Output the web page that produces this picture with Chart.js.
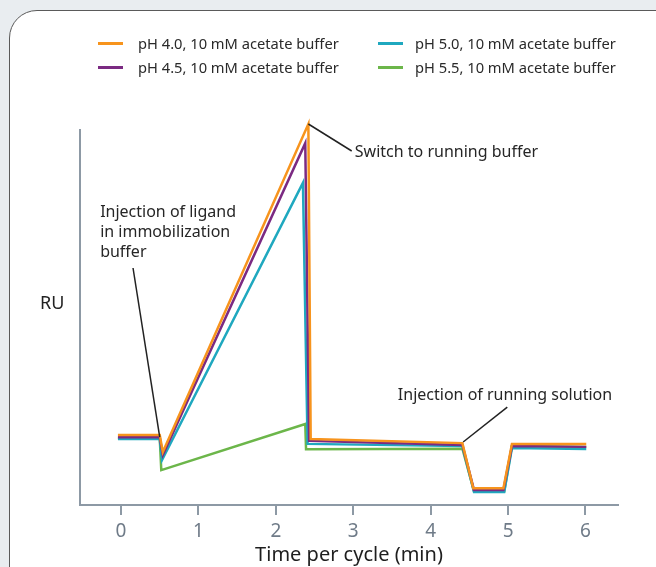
<!DOCTYPE html>
<html>
<head>
<meta charset="utf-8">
<script src="https://cdn.jsdelivr.net/npm/chart.js@4.4.1/dist/chart.umd.min.js"></script>
<style>
  html, body { margin:0; padding:0; background:#e9edf0; }
  body { width:656px; height:567px; overflow:hidden; position:relative; font-family:"Noto Sans", "Open Sans", sans-serif; }
  .card { position:absolute; left:9px; top:10px; width:700px; height:620px; background:#fff; border:1.5px solid #5a5a5a; border-radius:28px; }
  #wrap { position:absolute; left:0; top:0; width:656px; height:567px; }
  .leg { position:absolute; font-size:14.7px; color:#2a2a2a; white-space:nowrap; }
  .leg i { position:absolute; top:50%; width:25px; height:3px; margin-top:-1.5px; }
  .leg span { position:absolute; top:0; line-height:20px; }
  #ru { position:absolute; left:40px; top:290px; font-size:18px; color:#222; }
</style>
</head>
<body>
<div class="card"></div>
<div id="wrap"><canvas id="c" width="656" height="567"></canvas></div>
<div id="legend"></div>
<div id="ru">RU</div>
<script>
// series (time in min, response in arbitrary RU)
var labels = ['pH 4.0, 10 mM acetate buffer','pH 4.5, 10 mM acetate buffer','pH 5.0, 10 mM acetate buffer','pH 5.5, 10 mM acetate buffer']
var colors = ['#f7941d','#7b2a82','#1fa8bf','#6cb64a']

var tPH40 = [-0.04, 0.50, 0.54, 2.42, 2.45, 4.41, 4.55, 4.94, 5.05, 6.01]
var ruPH40 = [18.7, 18.7, 14.1, 101.6, 17.6, 16.5, 4.5, 4.5, 16.3, 16.3]
var tPH45 = [-0.04, 0.50, 0.54, 2.38, 2.43, 4.41, 4.56, 4.94, 5.05, 6.01]
var ruPH45 = [18.1, 18.1, 13.3, 96.5, 17.1, 16.0, 4.0, 4.0, 15.7, 15.5]
var tPH50 = [-0.04, 0.50, 0.53, 2.35, 2.41, 4.41, 4.56, 4.95, 5.05, 6.01]
var ruPH50 = [17.6, 17.6, 12.0, 85.9, 16.3, 15.7, 3.5, 3.5, 15.2, 14.9]
var tPH55 = [-0.04, 0.50, 0.52, 2.38, 2.39, 4.41, 4.56, 4.95, 5.05, 6.01]
var ruPH55 = [17.9, 17.9, 9.3, 21.6, 14.9, 15.0, 3.7, 3.7, 15.7, 15.5]

var xTicks = [0, 1, 2, 3, 4, 5, 6]

// legend: two columns, left column pH 4.0 / 4.5, right column pH 5.0 / 5.5
var legendSlots = [{x:98,y:33},{x:98,y:57},{x:378,y:33},{x:378,y:57}]
var legendHtml = ''
for (var i = 0; i < labels.length; i++) {
  var s = legendSlots[i]
  legendHtml += '<div class="leg" style="left:' + s.x + 'px;top:' + s.y + 'px;height:20px;width:260px">' +
    '<i style="left:0;background:' + colors[i] + '"></i><span style="left:' + (i < 2 ? 40 : 37) + 'px">' + labels[i] + '</span></div>'
}
document.getElementById('legend').innerHTML = legendHtml

function pts(t, v) { return t.map(function (x, i) { return {x:x, y:v[i]} }) }
var series = [pts(tPH40, ruPH40), pts(tPH45, ruPH45), pts(tPH50, ruPH50), pts(tPH55, ruPH55)]

// callouts in data coordinates
var callouts = [
  {lines:['Injection of ligand','in immobilization','buffer'], x:-0.27, y:77.9, step:5.3, align:'left', from:[0.155,63.2], to:[0.50,18.1]},
  {lines:['Switch to running buffer'], x:3.02, y:94.1, step:0, align:'left', from:[2.42,101.6], to:[2.98,94.4]},
  {lines:['Injection of running solution'], x:4.96, y:29.3, step:0, align:'center', from:[4.99,26.1], to:[4.42,16.8]}
]

var calloutPlugin = {
  id:'callouts',
  afterDatasetsDraw:function (chart) {
    var ctx = chart.ctx, xs = chart.scales.x, ys = chart.scales.y
    ctx.save()
    ctx.strokeStyle = '#222'
    ctx.lineWidth = 1.5
    ctx.fillStyle = '#262626'
    ctx.font = '16px "Noto Sans", "Open Sans", sans-serif'
    ctx.textBaseline = 'middle'
    callouts.forEach(function (c) {
      ctx.beginPath()
      ctx.moveTo(xs.getPixelForValue(c.from[0]), ys.getPixelForValue(c.from[1]))
      ctx.lineTo(xs.getPixelForValue(c.to[0]), ys.getPixelForValue(c.to[1]))
      ctx.stroke()
      ctx.textAlign = c.align
      c.lines.forEach(function (l, k) {
        ctx.fillText(l, xs.getPixelForValue(c.x), ys.getPixelForValue(c.y - k * c.step))
      })
    })
    ctx.restore()
  }
}

var axisColor = '#8d99a5'

new Chart(document.getElementById('c'), {
  type:'line',
  data:{
    datasets:series.map(function (d, i) {
      return {label:labels[i], data:d, borderColor:colors[i], backgroundColor:colors[i], borderWidth:2.5,
        pointRadius:0, tension:0, clip:false, borderJoinStyle:'miter'}
    })
  },
  options:{
    responsive:false,
    animation:false,
    events:[],
    layout:{padding:{left:0, right:38, top:130, bottom:0}},
    plugins:{legend:{display:false}, tooltip:{enabled:false}},
    scales:{
      x:{
        type:'linear', min:-0.53, max:6.42,
        afterBuildTicks:function (s) { s.ticks = xTicks.map(function (v) { return {value:v} }) },
        afterFit:function (s) { s.height = 62 },
        border:{display:true, color:axisColor, width:2},
        grid:{display:true, drawOnChartArea:false, drawTicks:true, tickLength:10, color:axisColor, lineWidth:2},
        ticks:{color:'#6f7b88', font:{family:'"Noto Sans", "Open Sans", sans-serif', size:19}, padding:5, maxRotation:0},
        title:{display:true, text:'Time per cycle (min)', color:'#1e1e1e', font:{family:'"Noto Sans", "Open Sans", sans-serif', size:20}, padding:{top:0, bottom:0}}
      },
      y:{
        min:0, max:100,
        afterFit:function (s) { s.width = 80 },
        border:{display:true, color:axisColor, width:2},
        grid:{display:false},
        ticks:{display:false}
      }
    }
  },
  plugins:[calloutPlugin]
})
</script>
</body>
</html>
